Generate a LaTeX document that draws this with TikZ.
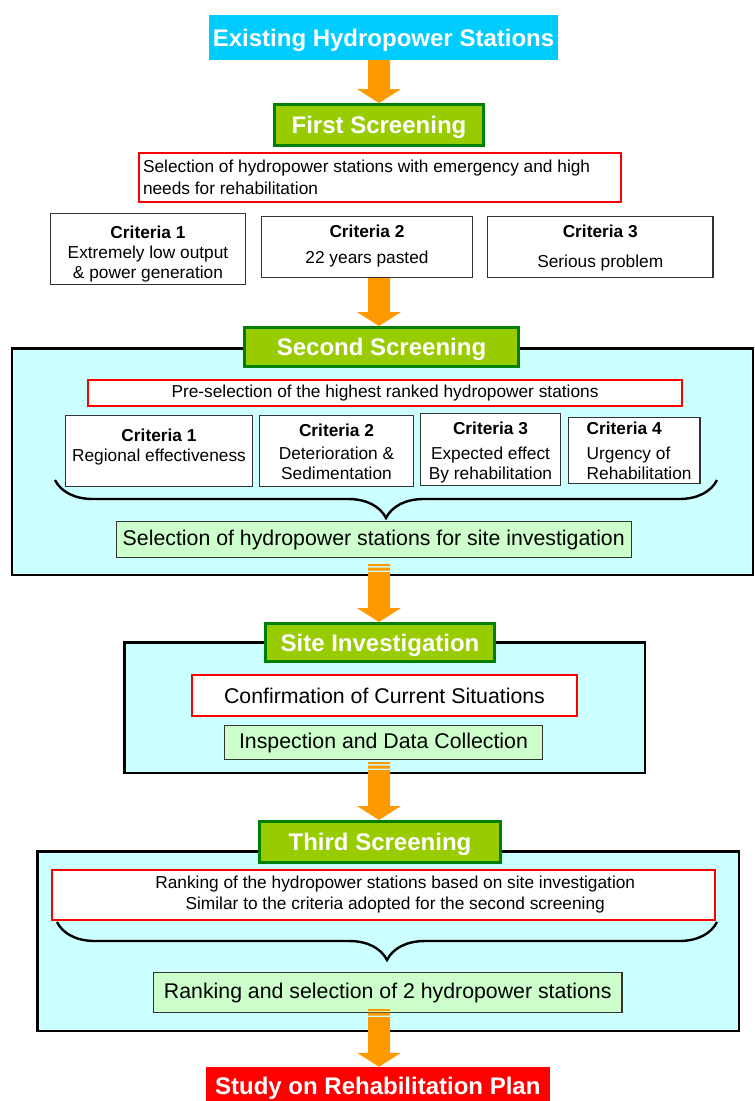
\documentclass[tikz,border=0pt]{standalone}
\usepackage{fontspec}
\setmainfont{Liberation Sans}
\usetikzlibrary{calc,decorations.pathreplacing}
\definecolor{tcyan}{RGB}{0,204,255}
\definecolor{tgreen}{RGB}{153,204,0}
\definecolor{dgreen}{RGB}{0,128,0}
\definecolor{lcyan}{RGB}{204,255,255}
\definecolor{lgreen}{RGB}{204,255,204}
\definecolor{aorange}{RGB}{255,153,0}
\definecolor{bgray}{RGB}{51,51,51}
\newcommand\fsm{\fontsize{17.3}{20}\selectfont}
\newcommand\fbg{\fontsize{21.3}{25}\selectfont}
\newcommand\ftl{\fontsize{24}{28}\selectfont\bfseries}
% criteria box body: width, height, top skip, content
\newcommand\critbody[4]{\parbox[c][#2][t]{#1}{\centering\fsm\vspace*{#3}\strut#4}}
\newcommand\critbodyl[5]{\parbox[c][#2][t]{#1}{\raggedright\leftskip=#5\fsm\vspace*{#3}\strut#4}}
% plain block arrow from node #1 to node #2
\newcommand\plainarrow[2]{%
  \fill[arrowc] let \p1=(#1.south), \p2=(#2.north) in
    (368pt,\y1) -- (390pt,\y1) -- (390pt,\y2+14pt) -- (401pt,\y2+14pt) -- (379pt,\y2)
    -- (357pt,\y2+14pt) -- (368pt,\y2+14pt) -- cycle;}
% striped block arrow from node #1 (start shifted by #3) to node #2
\newcommand\stripearrow[3]{%
  \fill[arrowc] let \p1=($(#1.south)+(0,#3)$), \p2=(#2.north) in
    (368pt,\y1) rectangle (390pt,\y1-2.2pt)
    (368pt,\y1-3.6pt) rectangle (390pt,\y1-6.6pt)
    (368pt,\y1-8pt) -- (390pt,\y1-8pt) -- (390pt,\y2+14pt) -- (401pt,\y2+14pt) -- (379pt,\y2)
    -- (357pt,\y2+14pt) -- (368pt,\y2+14pt) -- cycle;}
\tikzset{
  arrowc/.style={fill=aorange},
  topbox/.style={fill=tcyan, text=white, font=\ftl, inner sep=0pt, text depth=0pt},
  titlebox/.style={fill=tgreen, draw=dgreen, line width=3.2pt, text=white, font=\ftl, inner sep=0pt, text depth=0pt},
  endbox/.style={fill=red, text=white, font=\ftl, inner sep=0pt, text depth=0pt},
  redbox/.style={fill=white, draw=red, line width=2.4pt, inner sep=0pt, font=\fsm},
  critbox/.style={fill=white, draw=bgray, line width=1.4pt, inner sep=0pt},
  bigbox/.style={fill=lcyan, draw=black, line width=2.5pt, inner sep=0pt},
  resbox/.style={fill=lgreen, draw=bgray, line width=1.4pt, inner sep=0pt, font=\fbg},
  bracepath/.style={draw=black, line width=2.4pt, decorate, decoration={brace, amplitude=38pt}}
}
\begin{document}
\begin{tikzpicture}[x=1pt, y=-1pt]
\clip (0,0) rectangle (755,1101);
\fill[white] (0,0) rectangle (755,1101);

% ---- big frames
\node[bigbox, minimum width=741pt, minimum height=226.5pt] (frame2) at (382.25,461.5) {};
\node[bigbox, minimum width=520.5pt, minimum height=130.5pt] (frame3) at (384.5,707.5) {};
\node[bigbox, minimum width=701.5pt, minimum height=179.5pt] (frame4) at (388,941) {};

% ---- top
\node[topbox, minimum width=349pt, minimum height=45pt] (exist) at (383.5,37.5) {Existing Hydropower Stations};
\node[titlebox, minimum width=208.8pt, minimum height=40.8pt] (first) at (379,125) {First Screening};
\node[redbox, minimum width=481.6pt, minimum height=48.6pt] (sel1) at (380,177.5)
  {\parbox{474pt}{\fontsize{17.3}{22}\selectfont\raggedright Selection of hydropower stations with emergency and high\\needs for rehabilitation}};

\node[critbox, minimum width=194.6pt, minimum height=70.6pt] (c1a) at (148,249)
  {\critbody{194.6pt}{70.6pt}{10.5pt}{\textbf{Criteria 1}\\Extremely low output\\\& power generation}};
\node[critbox, minimum width=210.6pt, minimum height=60.6pt] (c1b) at (367,247)
  {\critbody{210.6pt}{60.6pt}{6.5pt}{\textbf{Criteria 2}\\[6pt]22 years pasted}};
\node[critbox, minimum width=225.1pt, minimum height=60.6pt] (c1c) at (600.25,247)
  {\critbody{225.1pt}{60.6pt}{6.5pt}{\textbf{Criteria 3}\\[10pt]Serious problem}};

% ---- second screening
\node[titlebox, minimum width=273.8pt, minimum height=38.8pt] (t2) at (381.5,347) {Second Screening};
\node[redbox, minimum width=593.6pt, minimum height=25.6pt] (pre) at (385,393)
  {Pre-selection of the highest ranked hydropower stations};
\node[critbox, minimum width=186.6pt, minimum height=70.6pt] (c2a) at (159,451)
  {\critbody{186.6pt}{70.6pt}{11.5pt}{\textbf{Criteria 1}\\Regional effectiveness}};
\node[critbox, minimum width=153.6pt, minimum height=70.6pt] (c2b) at (336.5,451)
  {\critbody{153.6pt}{70.6pt}{6.5pt}{\textbf{Criteria 2}\\[3pt]Deterioration \&\\Sedimentation}};
\node[critbox, minimum width=139.6pt, minimum height=71.6pt] (c2c) at (490.5,449.5)
  {\critbody{139.6pt}{71.6pt}{6.5pt}{\textbf{Criteria 3}\\[5pt]Expected effect\\By rehabilitation}};
\node[critbox, minimum width=131.1pt, minimum height=65.6pt] (c2d) at (634.25,450.5)
  {\critbodyl{131.1pt}{65.6pt}{2.5pt}{\textbf{Criteria 4}\\[5pt]Urgency of\\Rehabilitation}{18pt}};
\draw[bracepath] (717,480) -- (55,480);
\node[resbox, minimum width=515.1pt, minimum height=35.6pt] (selbox) at (373.75,539.5)
  {Selection of hydropower stations for site investigation};

% ---- site investigation
\node[titlebox, minimum width=228.8pt, minimum height=37.8pt] (t3) at (380,642.5) {Site Investigation};
\node[redbox, minimum width=384.6pt, minimum height=40.6pt, font=\fbg] (conf) at (384.5,695.5)
  {Confirmation of Current Situations};
\node[resbox, minimum width=317.6pt, minimum height=33.6pt] (insp) at (383.5,742.5)
  {Inspection and Data Collection};

% ---- third screening
\node[titlebox, minimum width=240.8pt, minimum height=40.8pt] (t4) at (380,842) {Third Screening};
\node[redbox, minimum width=663pt, minimum height=49.6pt] (rank) at (383.25,895)
  {\parbox{660pt}{\fontsize{17.3}{21}\selectfont\centering\leftskip=24pt plus 1fil
   Ranking of the hydropower stations based on site investigation\\
   Similar to the criteria adopted for the second screening}};
\draw[bracepath] (717,922) -- (57,922);
\node[resbox, minimum width=468.1pt, minimum height=39.6pt] (final) at (387.75,992.5)
  {Ranking and selection of 2 hydropower stations};

% ---- end
\node[endbox, minimum width=344.4pt, minimum height=38pt] (study) at (377.8,1086) {Study on Rehabilitation Plan};

% ---- connectors
\plainarrow{exist}{first}
\plainarrow{c1b}{t2}
\stripearrow{selbox}{t3}{6}
\stripearrow{insp}{t4}{2}
\stripearrow{final}{study}{-4}
\end{tikzpicture}
\end{document}
